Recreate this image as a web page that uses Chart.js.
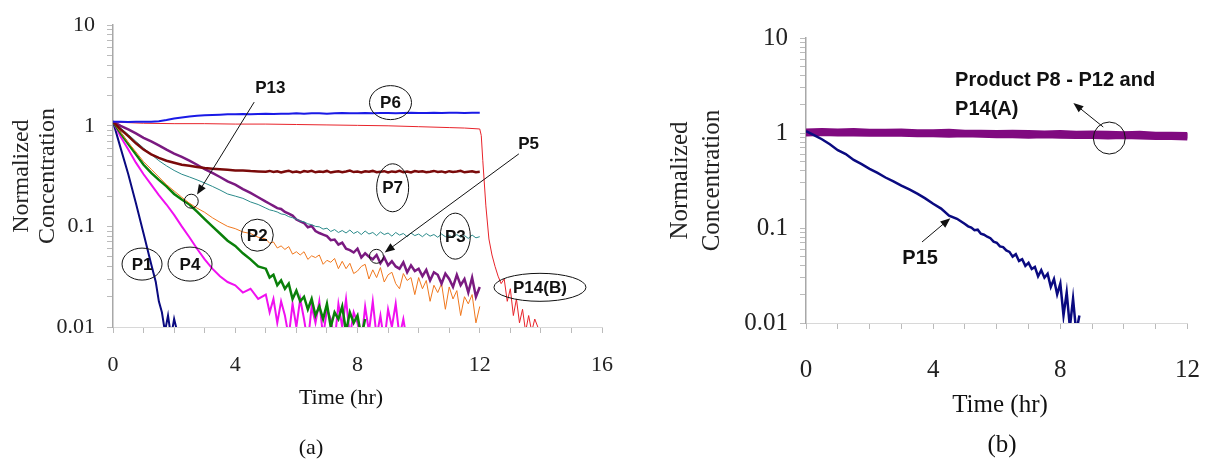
<!DOCTYPE html>
<html>
<head>
<meta charset="utf-8">
<script src="https://cdn.jsdelivr.net/npm/chart.js@4.4.0/dist/chart.umd.min.js"></script>
<style>
  html, body { margin: 0; padding: 0; background: #fff; }
  #wrap { position: relative; width: 1207px; height: 465px; overflow: hidden; }
  .box { position: absolute; top: 0; }
  #boxA { left: 0; }
  #boxB { left: 640px; }
</style>
</head>
<body>
<div id="wrap">
  <div class="box" id="boxA"><canvas id="chartA" width="632" height="465"></canvas></div>
  <div class="box" id="boxB"><canvas id="chartB" width="586" height="465"></canvas></div>
</div>
<script>
// ---- panel (a) data ----
// early part read every 0.25 h, later noisy part every 0.125 h
const tH = [0,0.25,0.5,0.75,1,1.25,1.5,1.75,2,2.25,2.5,2.75,3,3.25,3.5,3.75,4,4.25,4.5,4.75];
const tT = [5,5.125,5.25,5.375,5.5,5.625,5.75,5.875,6,6.125,6.25,6.375,6.5,6.625,6.75,6.875,7,7.125,7.25,7.375,7.5,7.625,7.75,7.875,8,8.125,8.25,8.375,8.5,8.625,8.75,8.875,9,9.125,9.25,9.375,9.5,9.625,9.75,9.875,10,10.125,10.25,10.375,10.5,10.625,10.75,10.875,11,11.125,11.25,11.375,11.5,11.625,11.75,11.875,12];
const tA = [0,0.25,0.5,0.75,1,1.25,1.5,1.75,2,2.25,2.5,2.75,3,3.25,3.5,3.75,4,4.25,4.5,4.75,5,5.25,5.5,5.75,6,6.25,6.5,6.75,7,7.25,7.5,7.75,8,8.25,8.5,8.75,9,9.25,9.5,9.75,10,10.25,10.5,10.75,11,11.25,11.5,11.75,12];

const p6 = [1.10,1.10,1.09,1.10,1.10,1.10,1.11,1.14,1.18,1.21,1.24,1.26,1.27,1.28,1.29,1.30,1.30,1.31,1.30,1.31,1.32,1.31,1.32,1.32,1.33,1.32,1.33,1.33,1.32,1.33,1.34,1.33,1.33,1.34,1.33,1.34,1.34,1.33,1.34,1.35,1.34,1.34,1.35,1.34,1.35,1.35,1.34,1.35,1.35];

const p7Head = [1.10,0.92,0.79,0.67,0.58,0.52,0.48,0.45,0.43,0.41,0.40,0.39,0.38,0.375,0.37,0.365,0.36,0.36,0.355,0.352];
const p7Tail = [0.350,0.356,0.347,0.353,0.344,0.352,0.358,0.346,0.351,0.343,0.355,0.349,0.357,0.345,0.352,0.348,0.356,0.343,0.350,0.354,0.346,0.352,0.359,0.347,0.351,0.344,0.353,0.349,0.356,0.345,0.350,0.354,0.343,0.352,0.348,0.357,0.346,0.351,0.344,0.355,0.349,0.353,0.345,0.350,0.356,0.347,0.352,0.343,0.354,0.348,0.351,0.357,0.345,0.350,0.353,0.346,0.349];

const p3Head = [1.10,0.95,0.82,0.70,0.60,0.52,0.45,0.40,0.36,0.33,0.31,0.29,0.27,0.25,0.23,0.21,0.20,0.19,0.175,0.165];
const p3Tail = [0.152,0.146,0.143,0.139,0.133,0.131,0.125,0.122,0.118,0.113,0.111,0.106,0.104,0.100,0.099,0.094,0.096,0.089,0.093,0.087,0.091,0.086,0.092,0.085,0.089,0.083,0.090,0.084,0.087,0.081,0.088,0.083,0.086,0.080,0.087,0.082,0.085,0.079,0.086,0.081,0.084,0.079,0.085,0.080,0.083,0.078,0.084,0.079,0.082,0.077,0.083,0.078,0.081,0.076,0.082,0.077,0.079];

const p5Head = [1.10,1.00,0.92,0.84,0.76,0.70,0.64,0.58,0.53,0.49,0.45,0.41,0.37,0.34,0.31,0.28,0.26,0.235,0.215,0.195];
const p5Tail = [0.176,0.168,0.160,0.152,0.149,0.139,0.134,0.128,0.117,0.112,0.108,0.098,0.101,0.090,0.086,0.083,0.080,0.073,0.074,0.066,0.069,0.060,0.058,0.055,0.060,0.049,0.054,0.050,0.047,0.052,0.043,0.049,0.041,0.045,0.040,0.038,0.044,0.035,0.041,0.036,0.038,0.032,0.037,0.029,0.035,0.033,0.027,0.034,0.030,0.025,0.033,0.026,0.030,0.022,0.031,0.020,0.025];

const p2Head = [1.10,0.86,0.68,0.55,0.44,0.37,0.31,0.26,0.225,0.195,0.17,0.152,0.138,0.122,0.11,0.10,0.095,0.088,0.085,0.078];
const p2Tail = [0.075,0.068,0.070,0.061,0.064,0.059,0.063,0.053,0.056,0.052,0.056,0.047,0.051,0.049,0.052,0.042,0.046,0.044,0.048,0.038,0.045,0.038,0.043,0.034,0.036,0.040,0.042,0.030,0.037,0.031,0.039,0.028,0.033,0.035,0.027,0.024,0.034,0.029,0.031,0.021,0.031,0.024,0.029,0.018,0.026,0.022,0.027,0.015,0.025,0.019,0.023,0.013,0.020,0.017,0.021,0.011,0.016];

const p13Head = [1.10,0.84,0.66,0.52,0.41,0.34,0.29,0.25,0.21,0.185,0.165,0.14,0.118,0.10,0.085,0.072,0.064,0.054,0.047,0.040];
const p13Tail = [0.038,0.031,0.033,0.026,0.029,0.024,0.027,0.019,0.023,0.018,0.020,0.015,0.019,0.013,0.016,0.012,0.017,0.010,0.014,0.012,0.016,0.009,0.014,0.011,0.013,0.008,0.012,null,null,null,null,null,null,null,null,null,null,null,null,null,null,null,null,null,null,null,null,null,null,null,null,null,null,null,null,null,null];

const p4Head = [1.10,0.78,0.58,0.43,0.33,0.26,0.205,0.165,0.13,0.10,0.078,0.060,0.047,0.038,0.032,0.028,0.026,0.022,0.024,0.019];
const p4Tail = [0.021,0.014,0.019,0.011,0.018,0.013,0.008,0.017,0.010,0.019,0.012,0.007,0.016,0.011,0.018,0.008,0.015,0.012,0.007,0.017,0.010,0.019,0.008,0.014,0.011,0.007,0.016,0.009,0.018,0.008,0.013,0.007,0.015,0.010,0.017,0.008,0.012,0.007,null,null,null,null,null,null,null,null,null,null,null,null,null,null,null,null,null,null,null];

const p1T = [0,0.25,0.5,0.75,1,1.25,1.4,1.5,1.6,1.7,1.8,1.9,2.0,2.1];
const p1 = [1.10,0.60,0.33,0.17,0.085,0.042,0.028,0.018,0.014,0.009,0.013,0.008,0.012,0.009];

const p14bT = [0,1,2,3,4,5,6,7,8,9,10,11,11.5,12,12.05,12.1,12.2,12.3,12.4,12.5,12.6,12.7,12.8,12.9,13,13.1,13.2,13.3,13.4,13.5,13.6,13.7,13.8,13.9];
const p14b = [1.09,1.06,1.05,1.05,1.04,1.04,1.03,1.02,1.01,1.00,0.98,0.96,0.95,0.93,0.80,0.45,0.16,0.075,0.052,0.040,0.032,0.027,0.030,0.018,0.024,0.013,0.019,0.011,0.015,0.009,0.013,0.009,0.012,0.010];

// ---- panel (b) data ----
const tB = [0,0.5,1,1.5,2,2.5,3,3.5,4,4.5,5,5.5,6,6.5,7,7.5,8,8.5,9,9.5,10,10.5,11,11.5,12];
const p8  = [1.07,1.08,1.07,1.08,1.06,1.06,1.07,1.05,1.05,1.06,1.04,1.04,1.03,1.04,1.03,1.02,1.03,1.01,1.02,1.01,1.00,1.01,0.99,0.99,0.98];
const p9  = [1.04,1.05,1.04,1.04,1.03,1.04,1.03,1.02,1.03,1.01,1.01,1.02,1.00,1.00,0.99,1.00,0.99,0.98,0.98,0.97,0.98,0.97,0.96,0.97,0.95];
const p10 = [1.01,1.02,1.01,1.01,1.00,1.00,1.01,0.99,0.99,0.98,0.99,0.98,0.97,0.97,0.96,0.97,0.96,0.95,0.96,0.94,0.94,0.95,0.93,0.93,0.92];
const p11 = [0.98,0.99,0.98,0.98,0.97,0.98,0.97,0.96,0.96,0.95,0.96,0.95,0.94,0.94,0.93,0.94,0.93,0.92,0.92,0.91,0.92,0.91,0.90,0.90,0.89];
const p12 = [1.05,1.06,1.05,1.06,1.04,1.04,1.05,1.03,1.03,1.02,1.03,1.02,1.01,1.02,1.00,1.00,1.01,0.99,0.99,0.98,0.99,0.98,0.97,0.98,0.96];
const p14a = [0.96,0.97,0.96,0.96,0.95,0.96,0.95,0.94,0.94,0.93,0.94,0.93,0.92,0.92,0.91,0.92,0.91,0.90,0.90,0.89,0.90,0.89,0.88,0.88,0.87];

const p15T = [0,0.25,0.5,0.75,1,1.25,1.5,1.75,2,2.25,2.5,2.75,3,3.25,3.5,3.75,4,4.25,4.5,4.75,5,5.1,5.2,5.3,5.4,5.5,5.6,5.7,5.8,5.9,6,6.1,6.2,6.3,6.4,6.5,6.6,6.7,6.8,6.9,7,7.1,7.2,7.3,7.4,7.5,7.6,7.7,7.8,7.9,8,8.1,8.2,8.3,8.4,8.5,8.6];
const p15 = [1.05,0.95,0.86,0.76,0.66,0.60,0.52,0.47,0.42,0.38,0.34,0.31,0.28,0.255,0.23,0.205,0.18,0.16,0.135,0.125,0.11,0.104,0.101,0.095,0.096,0.087,0.085,0.081,0.078,0.072,0.070,0.064,0.063,0.058,0.056,0.050,0.053,0.045,0.047,0.040,0.043,0.037,0.039,0.031,0.036,0.030,0.033,0.024,0.029,0.020,0.026,0.012,0.021,0.009,0.018,0.008,0.012];

// ---- axis ticks ----
const yMajor = [0.01, 0.1, 1, 10];
const yTicks = [0.01,0.02,0.03,0.04,0.05,0.06,0.07,0.08,0.09,0.1,0.2,0.3,0.4,0.5,0.6,0.7,0.8,0.9,1,2,3,4,5,6,7,8,9,10];

const pts = (t, v) => t.map((x, i) => ({ x, y: v[i] }));

const line = (label, t, v, color, width) => ({
  label,
  data: pts(t, v),
  borderColor: color,
  backgroundColor: color,
  borderWidth: width,
  pointRadius: 0,
  tension: 0,
  spanGaps: false,
});

const serif = "'Liberation Serif', 'Times New Roman', serif";
const sans = "'Liberation Sans', Arial, sans-serif";

// draws ellipses, arrows and labels placed in data coordinates, plus fixed texts
const notesPlugin = {
  id: "notes",
  afterDatasetsDraw(chart, args, opts) {
    const { ctx } = chart;
    const xs = chart.scales.x;
    const ys = chart.scales.y;
    const px = (p) => [xs.getPixelForValue(p[0]), ys.getPixelForValue(p[1])];

    ctx.save();
    ctx.strokeStyle = "#111";
    ctx.fillStyle = "#111";
    ctx.lineWidth = 1;
    ctx.textAlign = "center";
    ctx.textBaseline = "middle";

    (opts.ellipses || []).forEach((e) => {
      const [x, y] = px(e.at);
      ctx.beginPath();
      ctx.ellipse(x, y, e.rx, e.ry, 0, 0, Math.PI * 2);
      ctx.stroke();
      if (e.text) {
        ctx.font = `bold ${e.size || 17}px ${sans}`;
        ctx.fillText(e.text, x, y + 1);
      }
    });

    (opts.arrows || []).forEach((a) => {
      const [x1, y1] = px(a.from);
      const [x2, y2] = px(a.to);
      const ang = Math.atan2(y2 - y1, x2 - x1);
      const hl = 10, hw = 4;
      ctx.beginPath();
      ctx.moveTo(x1, y1);
      ctx.lineTo(x2 - Math.cos(ang) * hl * 0.8, y2 - Math.sin(ang) * hl * 0.8);
      ctx.stroke();
      ctx.beginPath();
      ctx.moveTo(x2, y2);
      ctx.lineTo(x2 - Math.cos(ang) * hl - Math.sin(ang) * hw, y2 - Math.sin(ang) * hl + Math.cos(ang) * hw);
      ctx.lineTo(x2 - Math.cos(ang) * hl + Math.sin(ang) * hw, y2 - Math.sin(ang) * hl - Math.cos(ang) * hw);
      ctx.closePath();
      ctx.fill();
    });

    (opts.labels || []).forEach((l) => {
      const [x, y] = px(l.at);
      ctx.font = `bold ${l.size || 17}px ${sans}`;
      ctx.textAlign = l.align || "center";
      ctx.fillText(l.text, x, y);
    });

    (opts.texts || []).forEach((t) => {
      ctx.font = `${t.size}px ${serif}`;
      ctx.textAlign = "center";
      ctx.fillText(t.text, t.x, t.y);
    });

    ctx.restore();
  },
};

function axes(xMax, yWidth, xHeight, tickSize, xPad, titleSize, titleLine, titlePad) {
  return {
    x: {
      type: "linear",
      min: 0,
      max: xMax,
      afterFit: (s) => { s.height = xHeight; },
      ticks: {
        stepSize: 1,
        autoSkip: false,
        maxRotation: 0,
        padding: xPad,
        color: "#222",
        font: { family: serif, size: tickSize },
        callback: (v) => (v % 4 === 0 ? String(v) : ""),
      },
      grid: { drawOnChartArea: false, tickLength: 6, tickColor: "#bbb" },
      border: { color: "#d8d8d8", width: 1 },
    },
    y: {
      type: "logarithmic",
      min: 0.01,
      max: 10,
      afterBuildTicks: (s) => { s.ticks = yTicks.map((v) => ({ value: v })); },
      afterFit: (s) => { s.width = yWidth; },
      ticks: {
        autoSkip: false,
        padding: 12,
        color: "#222",
        font: { family: serif, size: tickSize },
        callback: (v) => (yMajor.includes(v) ? String(v) : ""),
      },
      grid: { drawOnChartArea: false, tickLength: 6, tickColor: "#bbb" },
      border: { color: "#a8a8a8", width: 1.5 },
      title: {
        display: true,
        text: ["Normalized", "Concentration"],
        color: "#222",
        font: { family: serif, size: titleSize, lineHeight: titleLine },
        padding: { top: titlePad, bottom: 0 },
      },
    },
  };
}

new Chart(document.getElementById("chartA"), {
  type: "line",
  data: {
    datasets: [
      line("P6", tA, p6, "#1a1ae6", 2),
      line("P14(B)", p14bT, p14b, "#e8232a", 1),
      line("P7", tH.concat(tT), p7Head.concat(p7Tail), "#7a0a0a", 2.5),
      line("P3", tH.concat(tT), p3Head.concat(p3Tail), "#2a8a8a", 1),
      line("P5", tH.concat(tT), p5Head.concat(p5Tail), "#7a1a80", 2.5),
      line("P2", tH.concat(tT), p2Head.concat(p2Tail), "#f0781e", 1),
      line("P13", tH.concat(tT), p13Head.concat(p13Tail), "#0a800a", 2.5),
      line("P4", tH.concat(tT), p4Head.concat(p4Tail), "#f010f0", 2),
      line("P1", p1T, p1, "#0a0a80", 2),
    ],
  },
  options: {
    responsive: false,
    animation: false,
    events: [],
    layout: { padding: { top: 15, right: 0, left: 0, bottom: 0 } },
    scales: axes(16, 113, 138, 22, 19, 24, 1.08, 9),
    plugins: {
      legend: { display: false },
      tooltip: { enabled: false },
      notes: {
        ellipses: [
          { at: [9.08, 1.70], rx: 21, ry: 17, text: "P6" },
          { at: [9.15, 0.242], rx: 16, ry: 24, text: "P7" },
          { at: [11.2, 0.080], rx: 15, ry: 23, text: "P3" },
          { at: [4.72, 0.0818], rx: 16, ry: 16, text: "P2" },
          { at: [0.95, 0.0422], rx: 20, ry: 16, text: "P1" },
          { at: [2.52, 0.0422], rx: 22, ry: 17, text: "P4" },
          { at: [13.97, 0.0248], rx: 46, ry: 14, text: "P14(B)" },
          { at: [2.56, 0.178], rx: 7, ry: 7 },
          { at: [8.62, 0.0504], rx: 7, ry: 7 },
        ],
        arrows: [
          { from: [4.62, 1.72], to: [2.75, 0.207] },
          { from: [13.28, 0.526], to: [8.89, 0.055] },
        ],
        labels: [
          { at: [5.15, 2.37], text: "P13" },
          { at: [13.6, 0.656], text: "P5" },
        ],
        texts: [
          { text: "Time (hr)", x: 341, y: 398, size: 22 },
          { text: "(a)", x: 311, y: 448, size: 22 },
        ],
      },
    },
  },
  plugins: [notesPlugin],
});

new Chart(document.getElementById("chartB"), {
  type: "line",
  data: {
    datasets: [
      line("P15", p15T, p15, "#0a0a80", 2.5),
      line("P8", tB, p8, "#800a80", 3.5),
      line("P9", tB, p9, "#800a80", 3.5),
      line("P10", tB, p10, "#800a80", 3.5),
      line("P11", tB, p11, "#800a80", 3.5),
      line("P12", tB, p12, "#800a80", 3.5),
      line("P14(A)", tB, p14a, "#800a80", 3.5),
    ],
  },
  options: {
    responsive: false,
    animation: false,
    events: [],
    layout: { padding: { top: 38, right: 0, left: 0, bottom: 0 } },
    scales: axes(12, 166, 142, 25, 26, 25, 1.28, 24),
    plugins: {
      legend: { display: false },
      tooltip: { enabled: false },
      notes: {
        ellipses: [
          { at: [9.54, 0.885], rx: 16, ry: 16 },
        ],
        arrows: [
          { from: [9.35, 1.156], to: [8.41, 2.07] },
          { from: [3.65, 0.0713], to: [4.54, 0.127] },
        ],
        labels: [
          { at: [4.69, 3.61], text: "Product P8 - P12 and", align: "left", size: 20 },
          { at: [4.69, 1.75], text: "P14(A)", align: "left", size: 20 },
          { at: [3.59, 0.0483], text: "P15", size: 20 },
        ],
        texts: [
          { text: "Time (hr)", x: 360, y: 405, size: 25 },
          { text: "(b)", x: 362, y: 445, size: 25 },
        ],
      },
    },
  },
  plugins: [notesPlugin],
});
</script>
</body>
</html>
